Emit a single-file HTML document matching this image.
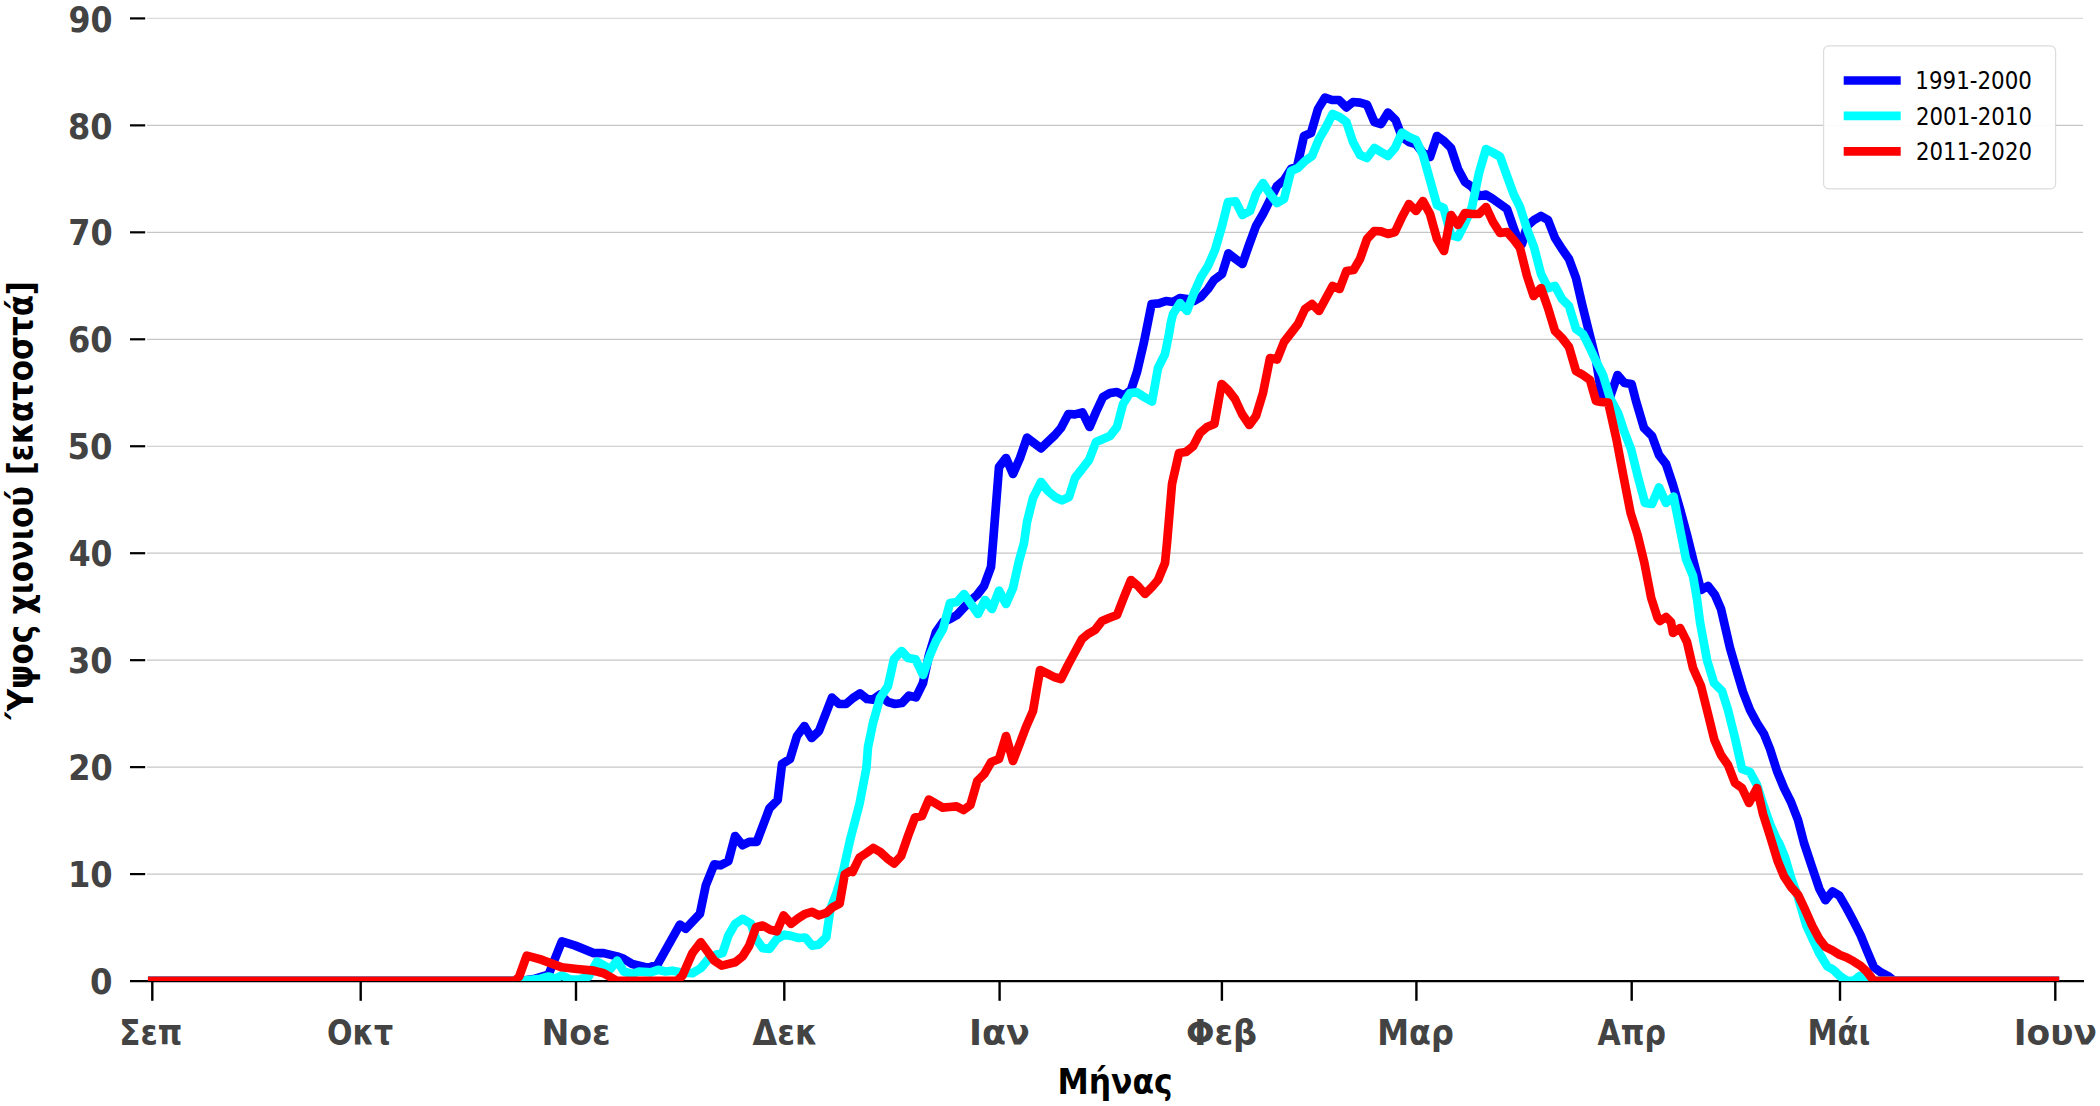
<!DOCTYPE html>
<html lang="el"><head><meta charset="utf-8"><title>Ύψος χιονιού</title>
<style>html,body{margin:0;padding:0;background:#fff}body{width:2100px;height:1106px;overflow:hidden}svg{display:block}text{font-family:"DejaVu Sans Condensed","DejaVu Sans","Liberation Sans",sans-serif}</style></head><body>
<svg width="2100" height="1106" viewBox="0 0 2100 1106">
<rect width="2100" height="1106" fill="#fff"/>
<g stroke="#c6c6c6" stroke-width="1.2">
<line x1="147" x2="2083" y1="874.09" y2="874.09"/>
<line x1="147" x2="2083" y1="767.13" y2="767.13"/>
<line x1="147" x2="2083" y1="660.17" y2="660.17"/>
<line x1="147" x2="2083" y1="553.21" y2="553.21"/>
<line x1="147" x2="2083" y1="446.25" y2="446.25"/>
<line x1="147" x2="2083" y1="339.29" y2="339.29"/>
<line x1="147" x2="2083" y1="232.33" y2="232.33"/>
<line x1="147" x2="2083" y1="125.37" y2="125.37"/>
<line x1="147" x2="2083" y1="18.41" y2="18.41" stroke="#dcdcdc"/>
</g>
<g stroke="#000" stroke-width="2.4">
<line x1="130" x2="145.2" y1="874.09" y2="874.09" stroke-width="2.2"/>
<line x1="130" x2="145.2" y1="767.13" y2="767.13" stroke-width="2.2"/>
<line x1="130" x2="145.2" y1="660.17" y2="660.17" stroke-width="2.2"/>
<line x1="130" x2="145.2" y1="553.21" y2="553.21" stroke-width="2.2"/>
<line x1="130" x2="145.2" y1="446.25" y2="446.25" stroke-width="2.2"/>
<line x1="130" x2="145.2" y1="339.29" y2="339.29" stroke-width="2.2"/>
<line x1="130" x2="145.2" y1="232.33" y2="232.33" stroke-width="2.2"/>
<line x1="130" x2="145.2" y1="125.37" y2="125.37" stroke-width="2.2"/>
<line x1="130" x2="145.2" y1="18.41" y2="18.41" stroke-width="2.2"/>
<line x1="152.3" x2="152.3" y1="981" y2="1000.8"/>
<line x1="360.7" x2="360.7" y1="981" y2="1000.8"/>
<line x1="576.0" x2="576.0" y1="981" y2="1000.8"/>
<line x1="784.3" x2="784.3" y1="981" y2="1000.8"/>
<line x1="999.6" x2="999.6" y1="981" y2="1000.8"/>
<line x1="1221.9" x2="1221.9" y1="981" y2="1000.8"/>
<line x1="1416.4" x2="1416.4" y1="981" y2="1000.8"/>
<line x1="1631.7" x2="1631.7" y1="981" y2="1000.8"/>
<line x1="1840.0" x2="1840.0" y1="981" y2="1000.8"/>
<line x1="2055.3" x2="2055.3" y1="981" y2="1000.8"/>
<line x1="130" x2="2084" y1="981.1" y2="981.1" stroke-width="2.3"/>
</g>
<clipPath id="cp"><rect x="0" y="0" width="2100" height="981"/></clipPath>
<g clip-path="url(#cp)" fill="none" stroke-width="8.7" stroke-linejoin="round" stroke-linecap="square">
<path stroke="#0000ff" d="M152.3 980.9 L521.8 980.9 L535.1 978.7 L548.5 974.8 L561.9 941.4 L575.3 945.6 L593.7 953.1 L603.7 953.1 L617.1 956.4 L623.8 958.9 L632.2 964.0 L645.6 967.3 L650.6 967.0 L657.3 964.8 L679.9 924.6 L685.7 928.8 L699.9 913.8 L705.8 885.3 L714.2 864.4 L720.8 865.3 L728.4 861.1 L735.1 836.0 L742.6 845.2 L749.3 841.8 L756.8 841.8 L769.4 808.4 L777.7 800.0 L782.0 764.0 L790.0 759.0 L797.0 736.0 L804.4 726.0 L811.6 738.0 L819.0 731.0 L832.0 697.6 L839.0 704.0 L846.0 704.0 L853.0 698.0 L860.0 693.4 L867.0 699.0 L873.0 699.6 L880.0 694.6 L888.0 702.0 L895.0 704.0 L902.0 703.0 L909.0 695.6 L916.0 697.4 L923.0 683.0 L929.0 655.0 L936.0 632.0 L943.0 622.0 L950.0 619.0 L957.0 615.0 L970.0 601.0 L977.0 595.0 L984.0 586.0 L991.0 567.0 L993.0 543.0 L999.0 467.0 L1006.0 458.0 L1013.0 474.0 L1020.0 458.0 L1027.0 437.6 L1034.0 443.0 L1041.0 448.4 L1048.0 441.6 L1055.0 435.0 L1061.0 428.0 L1068.4 414.0 L1075.0 414.4 L1082.4 412.4 L1089.6 427.0 L1096.0 412.0 L1103.0 397.0 L1110.0 393.0 L1117.0 392.0 L1124.0 395.6 L1131.0 390.0 L1137.0 372.0 L1144.0 342.0 L1148.0 322.0 L1151.6 304.0 L1159.0 303.4 L1166.0 301.0 L1173.0 302.0 L1180.0 298.0 L1187.0 299.0 L1194.0 301.0 L1201.0 297.0 L1208.0 289.0 L1214.0 280.0 L1222.0 274.0 L1228.4 253.4 L1235.6 259.0 L1242.4 264.0 L1249.0 245.0 L1256.0 226.0 L1263.0 214.0 L1270.0 200.0 L1277.0 186.0 L1284.0 180.0 L1291.0 169.0 L1297.0 167.0 L1304.0 136.0 L1311.0 133.0 L1318.0 109.0 L1325.0 97.6 L1332.0 100.0 L1339.0 100.0 L1346.4 107.4 L1353.0 102.0 L1360.0 102.6 L1367.0 104.6 L1374.4 122.0 L1381.0 124.0 L1388.0 112.6 L1395.6 120.0 L1402.0 137.0 L1409.0 142.0 L1416.0 144.0 L1423.0 153.0 L1430.0 157.0 L1437.0 136.0 L1444.0 141.0 L1451.0 148.0 L1458.0 169.0 L1465.0 182.0 L1472.0 187.0 L1479.0 196.0 L1486.0 194.6 L1493.0 199.0 L1500.0 204.0 L1507.0 209.0 L1514.0 229.0 L1520.0 245.0 L1522.0 244.0 L1527.0 226.0 L1534.0 220.0 L1541.0 216.0 L1548.0 220.0 L1555.0 238.0 L1562.0 249.0 L1569.0 259.0 L1576.0 278.0 L1582.0 304.0 L1589.0 332.0 L1596.0 360.0 L1602.0 397.0 L1608.2 402.4 L1617.6 375.0 L1624.4 383.0 L1631.6 384.0 L1636.0 401.0 L1644.0 428.0 L1652.0 436.0 L1659.0 455.0 L1666.0 464.0 L1673.0 485.0 L1680.0 509.0 L1687.0 535.0 L1694.0 563.0 L1701.0 590.0 L1708.0 586.0 L1715.0 595.0 L1721.0 609.0 L1724.0 622.0 L1730.0 648.0 L1737.0 672.0 L1743.0 692.0 L1750.0 710.0 L1757.0 723.0 L1764.0 734.0 L1770.0 749.0 L1777.0 771.0 L1784.0 788.0 L1791.0 802.0 L1798.0 820.0 L1804.0 843.0 L1812.2 867.6 L1819.3 888.7 L1825.4 900.2 L1832.5 891.4 L1839.5 895.8 L1846.6 908.1 L1853.6 921.3 L1860.7 935.4 L1866.8 950.4 L1873.9 967.2 L1881.0 972.4 L1888.0 976.0 L1894.2 980.9 L1899.5 980.9 L2054.8 980.9"/>
<path stroke="#00ffff" d="M152.3 980.9 L521.8 980.9 L540.2 978.7 L548.5 976.5 L555.2 978.7 L561.9 975.3 L570.3 979.7 L578.6 979.7 L588.7 976.5 L597.0 961.5 L610.4 969.0 L617.1 960.6 L623.8 971.5 L632.2 974.0 L638.9 971.5 L650.6 972.3 L658.1 969.8 L665.6 971.5 L672.3 970.7 L680.7 972.3 L692.4 973.2 L700.8 968.1 L709.1 958.1 L715.8 954.8 L722.5 953.1 L728.4 935.5 L735.1 923.8 L742.6 918.8 L751.0 923.8 L756.0 938.9 L762.7 948.1 L769.4 948.9 L776.9 938.9 L784.4 934.7 L791.1 935.9 L798.6 938.0 L805.3 937.5 L812.0 945.6 L818.7 944.7 L826.3 937.2 L830.4 908.8 L836.3 893.7 L843.0 871.9 L850.0 840.2 L859.5 804.0 L866.4 768.0 L868.0 747.0 L873.0 723.0 L880.0 698.0 L888.0 686.0 L894.0 659.0 L901.6 651.0 L908.0 658.0 L915.6 659.4 L923.0 675.0 L930.0 655.0 L936.0 641.0 L943.0 629.0 L950.0 603.0 L957.0 602.0 L964.0 594.0 L971.0 604.0 L978.0 614.0 L985.0 600.0 L992.0 609.0 L999.0 590.6 L1006.0 604.0 L1013.0 588.0 L1019.0 561.0 L1024.0 543.0 L1027.0 522.0 L1033.0 498.0 L1041.0 482.0 L1048.0 491.0 L1055.0 497.0 L1062.0 500.4 L1069.0 497.0 L1075.0 478.0 L1082.0 469.0 L1089.0 460.0 L1096.0 442.0 L1103.0 439.0 L1110.0 436.0 L1117.0 427.0 L1123.0 404.0 L1130.0 393.0 L1137.0 392.4 L1144.0 397.0 L1152.0 401.6 L1158.0 368.0 L1165.0 354.0 L1169.0 334.0 L1171.0 322.0 L1173.0 314.0 L1180.0 303.0 L1187.0 311.0 L1194.0 293.0 L1201.0 277.0 L1208.0 266.0 L1215.0 250.0 L1222.0 226.0 L1228.0 202.0 L1235.6 201.4 L1242.4 215.0 L1250.0 211.0 L1256.0 194.0 L1263.0 183.0 L1270.0 194.0 L1277.0 203.0 L1284.0 199.0 L1291.0 171.0 L1298.0 168.0 L1305.0 161.0 L1312.0 156.0 L1319.0 139.0 L1326.0 127.0 L1332.6 114.0 L1339.6 117.0 L1346.4 122.0 L1353.0 142.0 L1360.0 155.0 L1367.0 158.0 L1374.4 148.0 L1381.0 152.0 L1388.0 156.0 L1395.0 148.0 L1402.0 132.6 L1409.0 137.0 L1416.0 140.0 L1423.0 155.0 L1430.0 180.0 L1437.0 205.0 L1443.6 208.0 L1451.0 235.0 L1458.0 237.0 L1465.0 223.0 L1472.0 207.0 L1479.0 173.0 L1486.0 149.0 L1493.0 152.6 L1500.0 156.6 L1507.0 176.0 L1514.0 195.0 L1520.0 207.0 L1527.0 229.0 L1534.0 247.0 L1541.0 274.0 L1548.0 288.0 L1555.0 286.0 L1562.0 299.0 L1569.0 306.0 L1576.0 329.0 L1583.0 334.0 L1589.0 346.0 L1596.0 361.0 L1603.0 375.0 L1610.0 398.0 L1618.0 413.0 L1624.0 431.0 L1631.0 449.0 L1638.0 477.0 L1645.0 503.0 L1652.0 504.0 L1659.0 487.4 L1666.0 503.0 L1673.6 496.6 L1680.0 529.0 L1686.0 559.0 L1693.0 576.0 L1697.0 599.0 L1700.0 622.0 L1707.0 660.0 L1714.0 683.0 L1722.0 691.0 L1728.0 710.0 L1735.0 738.0 L1742.0 769.0 L1750.0 772.0 L1757.0 785.0 L1763.0 804.0 L1770.0 824.0 L1777.0 840.0 L1779.0 843.0 L1784.9 857.0 L1791.1 878.1 L1797.6 895.8 L1806.4 925.7 L1818.7 952.2 L1827.2 966.3 L1833.4 969.8 L1840.4 976.5 L1847.5 980.9 L1853.6 980.9 L1859.8 976.0 L1866.8 980.9 L2054.8 980.9"/>
<path stroke="#ff0000" d="M152.3 980.9 L500.0 980.9 L515.1 980.7 L519.2 976.5 L526.8 955.6 L541.8 959.8 L561.9 967.3 L577.0 969.0 L593.7 970.7 L603.7 973.2 L617.1 980.9 L632.2 980.9 L650.6 980.9 L667.3 980.9 L677.3 980.7 L682.4 975.7 L692.4 953.1 L700.8 942.2 L714.2 960.6 L721.7 965.6 L735.1 962.3 L742.6 956.4 L749.3 945.6 L756.0 927.2 L762.7 925.5 L770.2 929.7 L776.9 931.3 L783.6 915.4 L791.1 923.8 L798.6 918.0 L805.3 913.8 L812.0 911.8 L818.7 915.4 L826.3 912.9 L832.9 907.1 L839.6 903.7 L844.7 874.5 L850.0 871.1 L852.5 872.0 L859.5 857.6 L866.4 853.0 L873.3 848.0 L880.3 852.0 L887.2 858.4 L894.1 863.4 L901.1 856.0 L908.0 836.0 L914.9 817.6 L921.9 816.0 L928.8 799.6 L935.7 803.6 L942.7 807.6 L949.6 807.0 L956.5 806.4 L963.5 810.0 L970.4 805.0 L977.3 781.0 L984.3 774.0 L991.2 762.0 L999.0 759.0 L1006.0 736.0 L1013.0 761.0 L1020.0 743.0 L1026.0 727.0 L1033.0 711.0 L1040.0 670.0 L1047.0 673.4 L1054.0 677.0 L1061.0 679.0 L1068.0 665.0 L1075.0 652.0 L1082.0 639.0 L1088.0 634.0 L1095.0 630.0 L1102.0 621.0 L1109.0 618.0 L1117.0 615.0 L1124.0 597.0 L1131.0 580.0 L1138.0 586.0 L1145.0 594.0 L1152.0 587.0 L1158.0 580.0 L1165.0 563.0 L1167.0 543.0 L1172.0 484.0 L1179.0 453.0 L1186.0 452.0 L1193.0 446.4 L1200.0 433.0 L1207.0 427.0 L1214.4 424.0 L1221.6 384.0 L1228.0 390.0 L1235.0 399.0 L1242.0 414.0 L1249.4 425.0 L1256.0 416.0 L1263.0 393.0 L1270.0 358.0 L1277.0 359.6 L1284.0 342.0 L1291.0 333.0 L1298.0 324.0 L1305.0 309.0 L1312.0 304.0 L1319.0 311.0 L1326.0 298.0 L1332.6 286.0 L1339.6 289.0 L1346.4 271.0 L1353.6 270.0 L1360.0 259.0 L1367.0 239.0 L1374.4 231.0 L1381.0 231.4 L1388.0 234.0 L1395.0 232.0 L1402.0 217.0 L1409.0 204.0 L1416.0 211.0 L1423.0 201.0 L1430.0 214.0 L1437.0 239.0 L1444.0 251.0 L1451.0 215.0 L1458.0 225.0 L1465.0 213.0 L1472.0 214.0 L1479.0 214.0 L1486.0 207.0 L1493.0 222.0 L1500.0 233.0 L1507.0 232.0 L1514.0 240.0 L1520.0 248.0 L1527.0 276.0 L1533.6 296.0 L1541.0 288.0 L1548.0 308.0 L1555.0 331.0 L1562.0 338.0 L1569.0 347.0 L1576.0 371.0 L1583.0 375.0 L1590.0 380.0 L1596.0 401.0 L1601.2 402.0 L1608.2 402.6 L1616.4 439.0 L1623.6 477.0 L1630.6 513.0 L1637.6 535.0 L1644.4 563.0 L1651.2 598.0 L1657.6 618.0 L1660.0 621.0 L1666.0 617.0 L1671.0 622.0 L1673.0 633.0 L1680.0 628.0 L1687.0 642.0 L1693.0 668.0 L1701.0 686.0 L1708.0 714.0 L1714.4 740.0 L1721.0 755.0 L1728.0 765.0 L1735.0 783.0 L1742.0 788.0 L1749.0 803.0 L1757.0 788.0 L1763.0 814.0 L1770.0 836.0 L1777.5 860.5 L1784.0 876.4 L1791.1 887.0 L1798.1 894.9 L1805.2 909.9 L1812.2 925.7 L1819.3 939.0 L1825.4 946.9 L1832.5 950.4 L1839.5 954.8 L1846.6 957.5 L1853.6 961.3 L1860.7 965.9 L1866.8 971.6 L1873.9 980.9 L1877.4 980.9 L2054.8 980.9"/>
</g>
<rect x="1823.6" y="45.9" width="232" height="143" rx="5" ry="5" fill="#fff" fill-opacity="0.92" stroke="#dcdcdc" stroke-width="1.2"/>
<line x1="1843.7" x2="1900.7" y1="80.5" y2="80.5" stroke="#0000ff" stroke-width="8.7"/>
<line x1="1843.7" x2="1900.7" y1="115.9" y2="115.9" stroke="#00ffff" stroke-width="8.7"/>
<line x1="1843.7" x2="1900.7" y1="151.3" y2="151.3" stroke="#ff0000" stroke-width="8.7"/>
<text transform="translate(90.00,994.20) scale(1.0294,1)" font-size="35" font-weight="bold" fill="#434343">0</text>
<text transform="translate(67.97,887.24) scale(1.0204,1)" font-size="35" font-weight="bold" fill="#434343">10</text>
<text transform="translate(68.16,780.28) scale(1.0157,1)" font-size="35" font-weight="bold" fill="#434343">20</text>
<text transform="translate(68.05,673.32) scale(1.0157,1)" font-size="35" font-weight="bold" fill="#434343">30</text>
<text transform="translate(68.67,566.36) scale(1.0004,1)" font-size="35" font-weight="bold" fill="#434343">40</text>
<text transform="translate(67.60,459.40) scale(1.0268,1)" font-size="35" font-weight="bold" fill="#434343">50</text>
<text transform="translate(68.05,352.44) scale(1.0184,1)" font-size="35" font-weight="bold" fill="#434343">60</text>
<text transform="translate(68.21,245.48) scale(1.0146,1)" font-size="35" font-weight="bold" fill="#434343">70</text>
<text transform="translate(68.06,138.52) scale(1.0181,1)" font-size="35" font-weight="bold" fill="#434343">80</text>
<text transform="translate(68.41,31.56) scale(1.0050,1)" font-size="35" font-weight="bold" fill="#434343">90</text>
<text transform="translate(119.32,1044.60) scale(0.9973,1)" font-size="34.6" font-weight="bold" fill="#434343">Σεπ</text>
<text transform="translate(327.07,1044.60) scale(0.9660,1)" font-size="34.6" font-weight="bold" fill="#434343">Οκτ</text>
<text transform="translate(541.40,1044.60) scale(1.0696,1)" font-size="34.6" font-weight="bold" fill="#434343">Νοε</text>
<text transform="translate(752.51,1044.60) scale(1.0238,1)" font-size="34.6" font-weight="bold" fill="#434343">Δεκ</text>
<text transform="translate(968.92,1044.60) scale(1.1242,1)" font-size="34.6" font-weight="bold" fill="#434343">Ιαν</text>
<text transform="translate(1185.90,1044.60) scale(1.0786,1)" font-size="34.6" font-weight="bold" fill="#434343">Φεβ</text>
<text transform="translate(1377.18,1044.60) scale(1.0265,1)" font-size="34.6" font-weight="bold" fill="#434343">Μαρ</text>
<text transform="translate(1597.60,1044.60) scale(0.9647,1)" font-size="34.6" font-weight="bold" fill="#434343">Απρ</text>
<text transform="translate(1807.47,1044.60) scale(0.9731,1)" font-size="34.6" font-weight="bold" fill="#434343">Μάι</text>
<text transform="translate(2013.72,1044.60) scale(1.1060,1)" font-size="34.6" font-weight="bold" fill="#434343">Ιουν</text>
<text transform="translate(1057.40,1094.00) scale(0.9987,1)" font-size="35" font-weight="bold" fill="#000">Μήνας</text>
<text transform="translate(1915.35,89.10) scale(0.9912,1)" font-size="24" fill="#000">1991-2000</text>
<text transform="translate(1916.05,124.50) scale(0.9854,1)" font-size="24" fill="#000">2001-2010</text>
<text transform="translate(1916.05,159.90) scale(0.9854,1)" font-size="24" fill="#000">2011-2020</text>
<text transform="translate(33.1,719.20) rotate(-90) scale(0.9800,1)" font-size="35" font-weight="bold" fill="#000">Ύψος χιονιού [εκατοστά]</text>
</svg></body></html>
